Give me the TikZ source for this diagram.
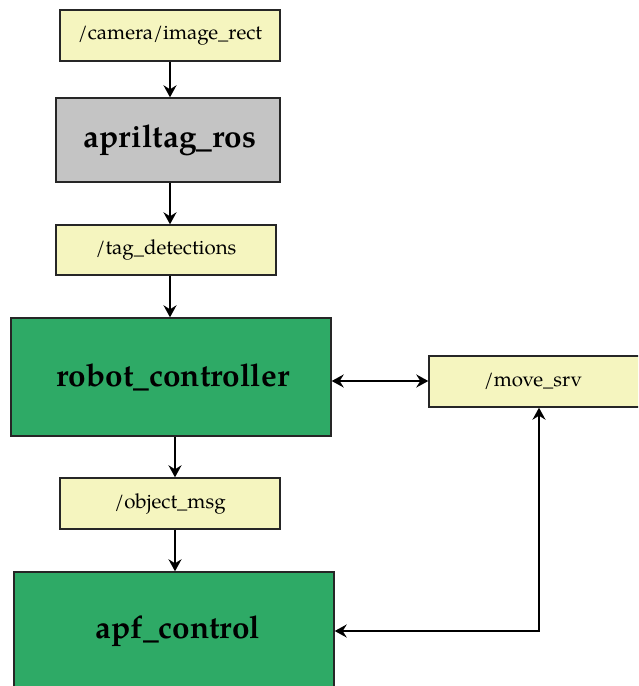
\documentclass[tikz,border=0pt]{standalone}
\usepackage{fontspec}
\setmainfont{TeX Gyre Pagella}
\usetikzlibrary{arrows.meta}
\definecolor{topicfill}{HTML}{F5F5BF}
\definecolor{nodegreen}{HTML}{2EAA66}
\definecolor{nodegray}{HTML}{C4C4C4}
\begin{document}
\begin{tikzpicture}[x=1pt,y=-1pt,
  topic/.style={draw=black!85, line width=1.4pt, fill=topicfill, inner sep=0pt, font=\fontsize{20.5}{24}\selectfont},
  rosnode/.style={draw=black!85, line width=1.4pt, inner sep=0pt, font=\fontsize{31.5}{38}\selectfont\bfseries},
  conn/.style={line width=2.7pt, -{Stealth[length=12pt,width=13pt,inset=4pt]}},
  biconn/.style={line width=2.7pt, {Stealth[length=12pt,width=13pt,inset=4pt]}-{Stealth[length=12pt,width=13pt,inset=4pt]}}]
\useasboundingbox (0,0) rectangle (638,686);
\begin{scope}
\clip (0,0) rectangle (638,686);
\node[topic, minimum width=220pt, minimum height=51pt] (cam) at (170,35.5) {/camera/image\_rect};
\node[rosnode, fill=nodegray, minimum width=224pt, minimum height=84pt] (april) at (168,140) {\hspace*{4pt}apriltag\_ros};
\node[topic, minimum width=220pt, minimum height=50pt] (tag) at (166,250) {/tag\_detections};
\node[rosnode, fill=nodegreen, minimum width=320pt, minimum height=118pt] (robot) at (171,377) {\hspace*{4pt}robot\_controller};
\node[topic, minimum width=212pt, minimum height=51pt] (move) at (535,381.5) {\hspace*{-2pt}/move\_srv\hspace*{2pt}};
\node[topic, minimum width=220pt, minimum height=51pt] (obj) at (170,503.5) {/object\_msg};
\node[rosnode, fill=nodegreen, minimum width=320pt, minimum height=118pt] (apf) at (174,631) {\hspace*{8pt}apf\_control};
\end{scope}
\coordinate (corner) at (539,631);
\draw[conn] (cam.south -| 170,0) -- (april.north -| 170,0);
\draw[conn] (april.south -| 170,0) -- (tag.north -| 170,0);
\draw[conn] (tag.south -| 170,0) -- (robot.north -| 170,0);
\draw[conn] (robot.south -| 175,0) -- (obj.north -| 175,0);
\draw[conn] (obj.south -| 175,0) -- (apf.north -| 175,0);
\draw[biconn] (robot.east |- 0,381) -- (move.west |- 0,381);
\draw[biconn] (move.south -| corner) -- (corner) -- (apf.east |- corner);
\end{tikzpicture}
\end{document}
